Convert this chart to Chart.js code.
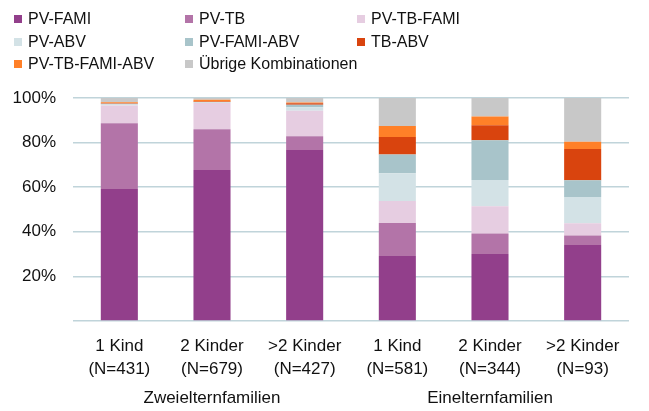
<!DOCTYPE html>
<html>
<head>
<meta charset="utf-8">
<script src="https://cdn.jsdelivr.net/npm/chart.js@4"></script>
<style>
  body { margin: 0; background: #fff; font-family: "Liberation Sans", Arial, sans-serif; }
  #wrap { position: relative; width: 649px; height: 411px; }
  #legend { position: absolute; left: 0; top: 0; width: 649px; height: 80px; }
  .item { position: absolute; font-size: 16px; color: #111; white-space: nowrap; line-height: 18px; }
  .item span.box { position: absolute; left: -14px; top: 5px; width: 8px; height: 8px; }
</style>
</head>
<body>
<div id="wrap">
  <canvas id="chart" width="649" height="411"></canvas>
  <div id="legend"></div>
</div>
<script>
const categories = [
    ['1 Kind', '(N=431)'], ['2 Kinder', '(N=679)'], ['>2 Kinder', '(N=427)'],
    ['1 Kind', '(N=581)'], ['2 Kinder', '(N=344)'], ['>2 Kinder', '(N=93)']
];
const groups = ['Zweielternfamilien', 'Einelternfamilien'];

const seriesNames = ['PV-FAMI', 'PV-TB', 'PV-TB-FAMI', 'PV-ABV', 'PV-FAMI-ABV', 'TB-ABV', 'PV-TB-FAMI-ABV', 'Übrige Kombinationen'];
const seriesColors = ['#923f8b', '#b374a8', '#e6cde1', '#d3e2e6', '#a8c4ca', '#d9440e', '#ff8028', '#c8c8c8'];

const pvFami = [59.2, 67.7, 76.7, 29.2, 30.1, 34.1];
const pvTb = [29.5, 18.3, 6.2, 14.8, 9.1, 4.2];
const pvTbFami = [7.9, 11.8, 11.4, 9.8, 12.3, 5.5];
const pvAbv = [0.5, 0.2, 1.5, 12.4, 11.7, 11.8];
const pvFamiAbv = [0.3, 0.2, 1.2, 8.5, 17.9, 7.5];
const tbAbv = [0.2, 0.2, 0.6, 7.8, 6.7, 14.0];
const pvTbFamiAbv = [0.5, 0.8, 0.4, 4.9, 3.9, 3.3];
const uebrige = [1.9, 0.8, 2.0, 12.6, 8.3, 19.6];

const seriesValues = [pvFami, pvTb, pvTbFami, pvAbv, pvFamiAbv, tbAbv, pvTbFamiAbv, uebrige];

// legend positions: three columns, three rows
const legendCols = [28, 199, 371];
const legendRows = [10, 33, 55];
const legendEl = document.getElementById('legend');
seriesNames.forEach((name, i) => {
    const div = document.createElement('div');
    div.className = 'item';
    div.style.left = legendCols[i % 3] + 'px';
    div.style.top = legendRows[Math.floor(i / 3)] + 'px';
    div.innerHTML = '<span class="box" style="background:' + seriesColors[i] + '"></span>' + name;
    legendEl.appendChild(div);
});

const groupLabels = {
    id: 'groupLabels',
    afterDraw(chart) {
        const ctx = chart.ctx;
        const x = chart.scales.x;
        ctx.save();
        ctx.font = '17px "Liberation Sans", Arial, sans-serif';
        ctx.fillStyle = '#111';
        ctx.textAlign = 'center';
        ctx.textBaseline = 'middle';
        ctx.fillText(groups[0], x.getPixelForValue(1), 398);
        ctx.fillText(groups[1], x.getPixelForValue(4), 398);
        ctx.restore();
    }
};

const ctx = document.getElementById('chart').getContext('2d');
const chart = new Chart(ctx, {
    type: 'bar',
    data: {
        labels: categories,
        datasets: seriesNames.map((name, i) => ({
            label: name,
            data: seriesValues[i],
            backgroundColor: seriesColors[i],
            borderWidth: 0,
            barPercentage: 0.4,
            categoryPercentage: 1
        }))
    },
    options: {
        responsive: false,
        animation: false,
        layout: { padding: { top: 98, right: 20, left: 0, bottom: 0 } },
        plugins: { legend: { display: false }, tooltip: { enabled: false } },
        scales: {
            x: {
                stacked: true,
                grid: { display: false },
                border: { display: false },
                ticks: {
                    color: '#111',
                    font: { family: '"Liberation Sans", Arial, sans-serif', size: 17, lineHeight: 1.35 },
                    padding: 6,
                    maxRotation: 0
                },
                afterFit(scale) { scale.height = 90; }
            },
            y: {
                stacked: true,
                min: 0,
                max: 100,
                grid: { color: '#c0d4da', lineWidth: 1.5, drawTicks: false },
                border: { display: false },
                ticks: {
                    stepSize: 20,
                    color: '#111',
                    font: { family: '"Liberation Sans", Arial, sans-serif', size: 17 },
                    padding: 17,
                    callback: v => v === 0 ? '' : v + '%'
                },
                afterFit(scale) { scale.width = 73; }
            }
        }
    },
    plugins: [groupLabels]
});
</script>
</body>
</html>
